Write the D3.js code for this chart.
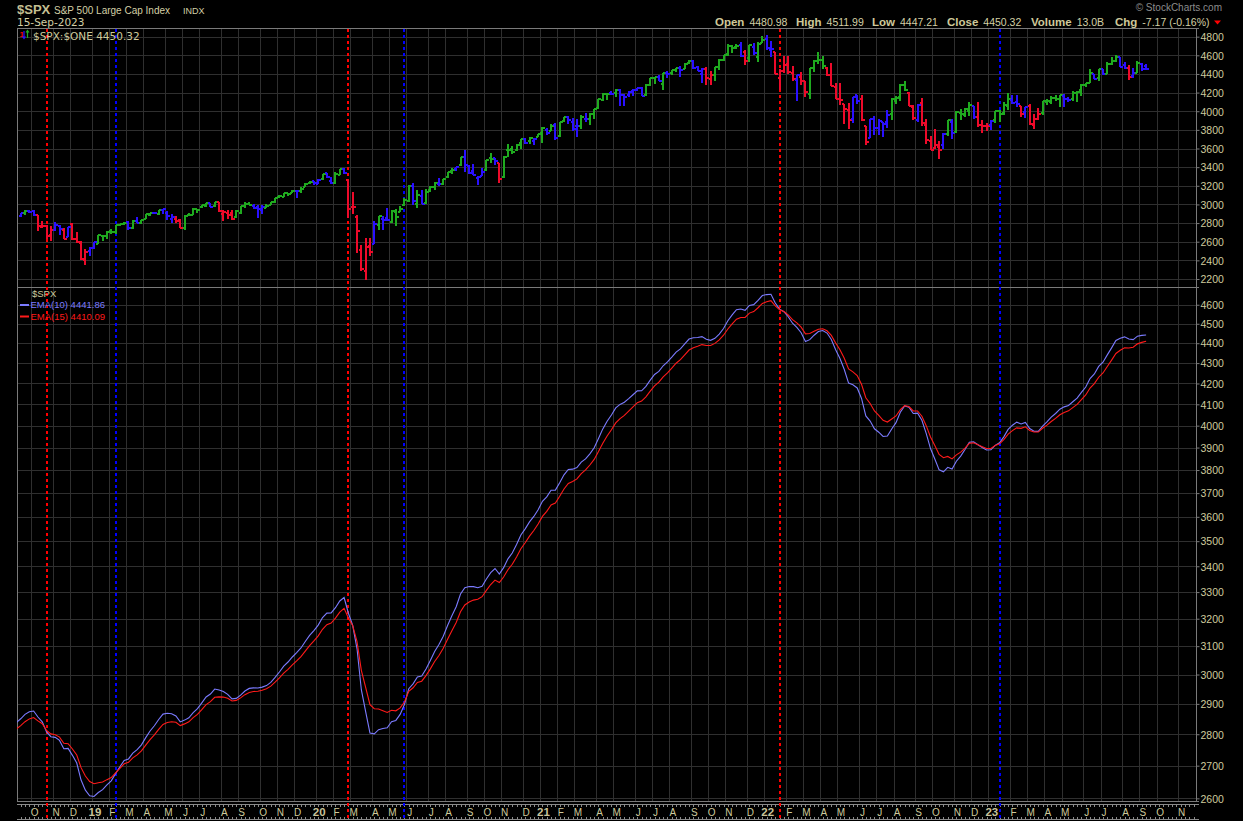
<!DOCTYPE html>
<html><head><meta charset="utf-8">
<script src="https://cdn.jsdelivr.net/npm/d3@7/dist/d3.min.js"></script>
<style>html,body{margin:0;padding:0;background:#000;overflow:hidden}svg{display:block}</style>
</head><body>
<svg id="chart" width="1243" height="821"></svg>
<script>
// ================= DATA (weekly bars, week ending Friday) =================
const firstWeek = "2018-09-14";
const lastWeek  = "2023-09-15";
const warmupFirstWeek = "2017-12-29";
// weekly closes before the visible window (needed to seed the moving averages)
const warmupCloses = [2674,2743,2786,2810,2873,2762,2620,2732,2747,2691,2787,2752,2588,2641,2604,2656,2670,2670,2663,2728,2713,2721,2735,2779,2779,2755,2718,2760,2801,2802,2819,2840,2833,2850,2875,2902,2872];

const opens = [
 2872,2906,2927,2926,2882,2763,2773,2670,2726,2773,2730,2649,2790,2631,2590,2401,
 2498,2535,2580,2657, 2657,2713,2703,2780, 2794,2812,2747,2823,2797, 2848,2889,2905,2898, 2941,2908,2841,2841,2831, 2751,2885,2886,2952, 2971,2981,3014,2987, 3024,2899,2907,2913,2866, 2910,2980,3002,2983, 2968,2944,2965,2996, 3028,3078,3081,3123,3118, 3144,3141,3183,3227,
 3248,3217,3274,3333,3248, 3235,3318,3380,3257, 2974,2864,2509,2290, 2559,2578,2782,2845, 2855,2815,2920,2914,2993, 3038,3199,3000,3094, 3018,3155,3191,3224,3219, 3289,3357,3377,3419, 3508,3413,3363,3285, 3310,3368,3494,3493,3441, 3296,3583,3600,3579, 3654,3699,3676,3684,3723,
 3764,3803,3791,3856, 3732,3893,3939,3885, 3842,3844,3913,3917, 3969,4034,4125,4182,4194, 4192,4228,4169,4171, 4216,4230,4248,4174, 4285,4358,4372,4297,4410, 4406,4438,4461,4450, 4513,4535,4474,4402, 4449,4349,4386,4472,4553, 4610,4697,4689,4712, 4640,4572,4687,4586,4733,
 4778,4655,4632,4357, 4432,4505,4412,4332, 4363,4323,4188,4462, 4541,4547,4462,4385,4255, 4130,4082,4013,3920, 4173,4135,3838,3715, 3920,3815,3880,3883,3965, 4113,4155,4281,4195, 4041,3910,4083,3857,3682, 3610,3620,3638,3754, 3886,3778,3977,3956, 4006,4053,3939,3854,3843,
 3853,3910,3999,3979, 4053,4120,4096,4057, 3992,4055,3856,3917,3983, 4102,4103,4140,4134, 4166,4136,4126,4191, 4224,4282,4304,4396,4354, 4450,4404,4505,4543, 4578,4492,4464,4375, 4415,4510,4481
];
const highs = [
 2906,2941,2940,2940,2889,2817,2779,2767,2815,2775,2746,2761,2800,2708,2607,2520,
 2539,2598,2675,2672, 2716,2738,2776,2794, 2814,2817,2830,2861,2836, 2894,2910,2917,2940, 2954,2932,2893,2871,2841, 2885,2911,2964,2955, 2996,3014,3018,3028, 3028,2945,2944,2939,2940, 2985,3021,3022,3002, 2993,2994,3008,3027, 3067,3098,3121,3127,3154, 3150,3183,3226,3248,
 3248,3276,3330,3338,3293, 3347,3385,3393,3260, 3137,2882,2562,2637, 2642,2818,2880,2871, 2964,2939,2955,2980,3068, 3212,3233,3156,3155, 3165,3198,3236,3279,3273, 3352,3387,3399,3509, 3588,3426,3429,3306, 3393,3482,3550,3502,3441, 3522,3646,3629,3645, 3702,3712,3726,3711,3760,
 3827,3824,3860,3870, 3887,3938,3950,3928, 3914,3960,3984,3978, 4021,4129,4191,4195,4219, 4238,4238,4187,4219, 4234,4250,4262,4287, 4356,4372,4394,4415,4429, 4440,4469,4480,4513, 4546,4549,4487,4466, 4475,4429,4475,4559,4608, 4718,4707,4718,4744, 4652,4713,4731,4741,4808,
 4819,4749,4632,4453, 4595,4590,4490,4385, 4416,4324,4466,4546, 4637,4593,4471,4513,4308, 4308,4082,4090,4158, 4178,4169,3838,3914, 3951,3918,3880,4013,4140, 4167,4290,4325,4203, 4062,4077,4140,3916,3736, 3807,3685,3762,3905, 3912,4002,4029,4034, 4101,4053,4101,3906,3877,
 3907,4004,4015,4095, 4195,4176,4170,4058, 4048,4079,3974,4039,4110, 4134,4164,4170,4170, 4187,4155,4212,4213, 4290,4299,4448,4400,4458, 4456,4528,4578,4607, 4584,4528,4491,4459, 4541,4515,4512
];
const lows = [
 2865,2886,2903,2874,2710,2749,2628,2604,2717,2671,2631,2649,2621,2583,2409,2347,
 2444,2525,2574,2612, 2631,2684,2682,2765, 2775,2722,2732,2800,2785, 2848,2874,2893,2891, 2901,2836,2801,2806,2750, 2728,2875,2883,2906, 2963,2968,2969,2977, 2914,2822,2840,2835,2853, 2892,2964,2989,2946, 2856,2892,2961,2991, 3013,3066,3078,3091,3118, 3070,3124,3183,3224,
 3212,3214,3264,3280,3214, 3215,3316,3328,2855, 2901,2479,2281,2192, 2447,2575,2729,2727, 2819,2798,2766,2914,2988, 3026,2999,2966,3004, 3000,3128,3159,3202,3205, 3285,3327,3363,3416, 3349,3330,3313,3209, 3310,3354,3441,3420,3233, 3280,3511,3543,3576, 3594,3645,3647,3636,3723,
 3663,3749,3784,3694, 3725,3885,3865,3789, 3724,3806,3885,3853, 3917,4029,4115,4118,4177, 4157,4056,4061,4153, 4168,4217,4165,4165, 4274,4289,4321,4233,4360, 4385,4425,4367,4448, 4508,4456,4427,4306, 4279,4278,4329,4447,4538, 4595,4630,4673,4585, 4495,4531,4600,4531,4733,
 4662,4582,4395,4223, 4415,4401,4327,4115, 4279,4157,4129,4425, 4507,4450,4381,4267,4129, 4062,3859,3811,3875, 4073,3900,3637,3715, 3741,3743,3722,3819,3911, 4080,4108,4218,4057, 3907,3884,3837,3647,3584, 3600,3492,3590,3733, 3699,3764,3906,3937, 3947,3918,3828,3765,3783,
 3795,3877,3885,3962, 4015,4080,4048,3943, 3929,3847,3809,3902,3955, 4069,4073,4113,4049, 4048,4099,4114,4104, 4166,4261,4304,4341,4328, 4385,4396,4497,4526, 4475,4457,4335,4356, 4415,4431,4447
];
const closes = [
 2905,2930,2914,2886,2767,2768,2659,2723,2781,2736,2633,2760,2633,2600,2417,2486,
 2532,2596,2671,2665, 2707,2708,2776,2793, 2804,2743,2822,2801,2834, 2893,2907,2905,2940, 2946,2881,2860,2826,2752, 2873,2887,2950,2942, 2990,3014,2977,3026, 2932,2919,2889,2847,2926, 2979,3007,2992,2962, 2952,2970,2986,3023, 3067,3093,3120,3110,3141, 3146,3169,3221,3240,
 3235,3265,3330,3295,3226, 3328,3380,3338,2954, 2972,2711,2305,2541, 2489,2790,2875,2837, 2831,2930,2864,2955,3044, 3194,3041,3098,3009, 3130,3185,3225,3216,3271, 3351,3373,3397,3508, 3427,3341,3319,3298, 3348,3477,3484,3465,3270, 3509,3585,3558,3638, 3699,3663,3709,3703,3756,
 3825,3768,3841,3714, 3887,3935,3907,3811, 3842,3943,3913,3975, 4020,4129,4185,4180,4181, 4233,4174,4156,4204, 4230,4247,4166,4281, 4352,4370,4327,4412,4395, 4437,4468,4442,4509, 4535,4459,4433,4455, 4357,4391,4471,4545,4605, 4698,4683,4698,4595, 4538,4712,4621,4726,4766,
 4677,4663,4398,4432, 4501,4419,4349,4385, 4329,4204,4463,4543, 4546,4488,4393,4272,4132, 4123,4024,3901,4158, 4109,3901,3675,3912, 3825,3899,3863,3962,4130, 4145,4280,4228,4058, 3924,4067,3873,3693,3586, 3640,3583,3753,3901, 3771,3993,3965,4026, 4072,3934,3852,3845,3840,
 3895,3999,3973,4071, 4136,4090,4079,3970, 4046,3862,3917,3971,4109, 4105,4138,4134,4169, 4136,4124,4192,4205, 4282,4299,4410,4348,4450, 4399,4505,4536,4582, 4478,4464,4370,4406, 4516,4457,4450
];

const emaPeriods = [10, 15];
const emaLegend = ["EMA(10) 4441.86", "EMA(15) 4410.09"];
const emaColors = ["#7b7bff", "#ff1a1a"];
const sellSignals = ["2018-10-26", "2020-02-28", "2022-01-28"];
const buySignals  = ["2019-02-15", "2020-05-29", "2023-01-20"];
const topTicks = [2200,2400,2600,2800,3000,3200,3400,3600,3800,4000,4200,4400,4600,4800];
const lowTicks = [2600,2700,2800,2900,3000,3100,3200,3300,3400,3500,3600,3700,3800,3900,4000,4100,4200,4300,4400,4500,4600];
const monthLetters = ["J","F","M","A","M","J","J","A","S","O","N","D"];
const headerQuote = [["Open","4480.98"],["High","4511.99"],["Low","4447.21"],["Close","4450.32"],["Volume","13.0B"],["Chg","-7.17 (-0.16%)"]];

// ================= LAYOUT =================
const L = 17, R = 1196, T1 = 28, B1 = 287, T2 = 288, B2 = 801;
const TXT = "#cfcb9d", GRID = "#2f2f2f", BORDER = "#7a7a7a";
const C_GREEN = "#1faa1f", C_RED = "#ee0a2a", C_BLUE = "#2a10ff";
const quoteX = [715, 796, 872, 947, 1031, 1115];

const svg = d3.select("#chart");
svg.append("rect").attr("width", 1243).attr("height", 821).attr("fill", "#000");

const utc = s => new Date(s + "T00:00:00Z");
const dates = d3.utcFriday.range(utc(firstWeek), d3.utcDay.offset(utc(lastWeek), 1));
const warmDates = d3.utcFriday.range(utc(warmupFirstWeek), utc(firstWeek));
const n = Math.min(dates.length, opens.length, highs.length, lows.length, closes.length);

const x = d3.scaleUtc().domain([utc("2018-09-08"), utc("2023-12-05")]).range([L, R]);
const yTop = d3.scaleLinear().domain([2114, 4893]).range([B1, T1]);
const yLow = d3.scaleLog().domain([2592, 4690]).range([B2, T2]);

// ---------- indicators ----------
function ema(vals, p) {
  const k = 2 / (p + 1), out = new Array(vals.length).fill(null);
  let s = 0;
  for (let i = 0; i < vals.length; i++) {
    if (vals[i] == null) continue;
    if (i < p - 1) { s += vals[i]; continue; }
    if (i === p - 1) { s += vals[i]; out[i] = s / p; continue; }
    out[i] = out[i - 1] == null ? vals[i] : vals[i] * k + out[i - 1] * (1 - k);
  }
  return out;
}
const allCloses = warmupCloses.concat(closes.slice(0, n));
const allDates = warmDates.concat(dates.slice(0, n));
const off = warmupCloses.length;
const e12 = ema(allCloses, 12), e26 = ema(allCloses, 26), e13 = ema(allCloses, 13);
const macd = allCloses.map((c, i) => (e26[i] == null ? null : e12[i] - e26[i]));
const macdStart = 25;
const sigPart = ema(macd.slice(macdStart), 9);
const hist = macd.map((m, i) => (i < macdStart || sigPart[i - macdStart] == null ? null : m - sigPart[i - macdStart]));
function impulse(j) {
  const up1 = e13[j] > e13[j - 1], dn1 = e13[j] < e13[j - 1];
  if (hist[j] == null || hist[j - 1] == null) return up1 ? C_GREEN : (dn1 ? C_RED : C_BLUE);
  const up2 = hist[j] > hist[j - 1], dn2 = hist[j] < hist[j - 1];
  if (up1 && up2) return C_GREEN;
  if (dn1 && dn2) return C_RED;
  return C_BLUE;
}

// ---------- clip paths ----------
const defs = svg.append("defs");
defs.append("clipPath").attr("id", "cTop").append("rect").attr("x", L).attr("y", T1).attr("width", R - L).attr("height", B1 - T1);
defs.append("clipPath").attr("id", "cLow").append("rect").attr("x", L).attr("y", T2).attr("width", R - L).attr("height", B2 - T2);

// ---------- month grid & x axis ----------
const months = d3.utcMonth.range(utc("2018-10-01"), utc("2023-12-01"));
const monthInfo = months.map(m => {
  const mon = d3.utcMonday.ceil(m);
  const fri = d3.utcDay.offset(mon, 4);
  return { m, gx: Math.round(x(mon)) + 0.5, lx: x(fri) + 1 };
});
const grid = svg.append("g").attr("stroke", GRID).attr("stroke-width", 1).attr("shape-rendering", "crispEdges");
monthInfo.forEach(d => {
  if (d.gx <= L + 1 || d.gx >= R) return;
  grid.append("line").attr("x1", d.gx).attr("x2", d.gx).attr("y1", T1).attr("y2", B1);
  grid.append("line").attr("x1", d.gx).attr("x2", d.gx).attr("y1", T2).attr("y2", B2);
});
topTicks.forEach(v => {
  const yy = Math.round(yTop(v)) + 0.5;
  grid.append("line").attr("x1", L).attr("x2", R).attr("y1", yy).attr("y2", yy);
});
lowTicks.forEach(v => {
  const yy = Math.round(yLow(v)) + 0.5;
  grid.append("line").attr("x1", L).attr("x2", R).attr("y1", yy).attr("y2", yy);
});

// x-axis band
const xa = svg.append("g").attr("shape-rendering", "crispEdges");
xa.append("line").attr("x1", L).attr("x2", R + 3).attr("y1", 804.5).attr("y2", 804.5).attr("stroke", "#8a8a8a");
xa.append("line").attr("x1", L).attr("x2", R + 3).attr("y1", 819.5).attr("y2", 819.5).attr("stroke", "#8a8a8a");
const allFridays = d3.utcFriday.range(utc("2018-09-08"), utc("2023-12-05"));
allFridays.forEach(d => {
  const xx = Math.round(x(d)) + 0.5;
  xa.append("line").attr("x1", xx).attr("x2", xx).attr("y1", 805).attr("y2", 807).attr("stroke", "#8a8a8a");
  xa.append("line").attr("x1", xx).attr("x2", xx).attr("y1", 817).attr("y2", 819).attr("stroke", "#8a8a8a");
});
monthInfo.forEach(d => {
  const isYear = d.m.getUTCMonth() === 0;
  const label = isYear ? String(d.m.getUTCFullYear()).slice(2) : monthLetters[d.m.getUTCMonth()];
  if (d.lx > R) return;
  svg.append("text").attr("x", d.lx).attr("y", 816).attr("text-anchor", "middle")
    .attr("font-family", "Liberation Sans, Arial, sans-serif")
    .attr("font-size", isYear ? 11.5 : 10).attr("font-weight", isYear ? "bold" : "normal")
    .attr("fill", isYear ? "#c9c39a" : TXT).text(label);
});

// ---------- panel borders & right axes ----------
const bd = svg.append("g").attr("stroke", BORDER).attr("fill", "none").attr("shape-rendering", "crispEdges");
bd.append("line").attr("x1", L + 0.5).attr("x2", L + 0.5).attr("y1", T1).attr("y2", B2);
bd.append("line").attr("x1", R + 0.5).attr("x2", R + 0.5).attr("y1", T1).attr("y2", B2);
bd.append("line").attr("x1", L).attr("x2", R + 3).attr("y1", T1 + 0.5).attr("y2", T1 + 0.5);
bd.append("line").attr("x1", L).attr("x2", R + 3).attr("y1", B1 + 0.5).attr("y2", B1 + 0.5);
bd.append("line").attr("x1", L).attr("x2", R + 3).attr("y1", B2 + 0.5).attr("y2", B2 + 0.5);

const axTop = d3.axisRight(yTop).tickValues(topTicks).tickSize(3).tickPadding(1).tickFormat(d3.format("d"));
const axLow = d3.axisRight(yLow).tickValues(lowTicks).tickSize(3).tickPadding(1).tickFormat(d3.format("d"));
[axTop, axLow].forEach(ax => {
  const g = svg.append("g").attr("transform", `translate(${R + 0.5},0)`).call(ax);
  g.select(".domain").remove();
  g.selectAll("line").attr("stroke", BORDER);
  g.selectAll("text").attr("fill", TXT).attr("font-family", "Liberation Sans, Arial, sans-serif").attr("font-size", 10.5).attr("dy", "0.36em");
});

// ---------- signal markers ----------
const sig = svg.append("g").attr("stroke-width", 2).attr("stroke-dasharray", "3,3").attr("shape-rendering", "crispEdges");
sellSignals.forEach(s => { const xx = Math.round(x(utc(s))); sig.append("line").attr("x1", xx).attr("x2", xx).attr("y1", T1 + 1).attr("y2", 821).attr("stroke", "#ff0000"); });
buySignals.forEach(s => { const xx = Math.round(x(utc(s))); sig.append("line").attr("x1", xx).attr("x2", xx).attr("y1", T1 + 1).attr("y2", 821).attr("stroke", "#0000ff"); });

// ---------- price bars ----------
const bars = svg.append("g").attr("clip-path", "url(#cTop)").attr("fill", "none").attr("stroke-width", 2).attr("shape-rendering", "crispEdges");
for (let i = 0; i < n; i++) {
  const xx = Math.round(x(dates[i]));
  const p = `M${xx},${yTop(highs[i])}V${yTop(lows[i])}M${xx - 2},${yTop(opens[i])}H${xx}M${xx},${yTop(closes[i])}H${xx + 3}`;
  bars.append("path").attr("d", p).attr("stroke", impulse(i + off));
}

// ---------- EMA lines ----------
const lowG = svg.append("g").attr("clip-path", "url(#cLow)");
emaPeriods.forEach((p, k) => {
  const e = ema(allCloses, p);
  const pts = [];
  for (let j = off - 1; j < allCloses.length; j++) if (e[j] != null) pts.push([x(allDates[j]), yLow(e[j])]);
  lowG.append("path").attr("d", d3.line()(pts)).attr("fill", "none").attr("stroke", emaColors[k]).attr("stroke-width", 1.1);
});

// ---------- legends ----------
const lg = svg.append("g");
lg.append("text").attr("x", 19.5).attr("y", 37).attr("font-family", "Liberation Sans, sans-serif").attr("font-size", 8).attr("font-weight", "bold").attr("fill", "#ff0000").text("1");
lg.append("path").attr("d", "M24,31V38M22.5,36.5L24,38.5L25.5,36.5").attr("stroke", "#2a10ff").attr("fill", "none").attr("stroke-width", 1.2);
lg.append("path").attr("d", "M27.5,31V38M26,32.5L27.5,30.5L29,32.5").attr("stroke", "#1faa1f").attr("fill", "none").attr("stroke-width", 1.2);
lg.append("text").attr("x", 33).attr("y", 39.5).attr("font-family", "DejaVu Sans, sans-serif").attr("font-size", 10.5).attr("fill", TXT).text("$SPX:$ONE 4450.32");

lg.append("text").attr("x", 32).attr("y", 297).attr("font-family", "Liberation Sans, sans-serif").attr("font-size", 9.5).attr("fill", TXT).text("$SPX");
emaLegend.forEach((t, k) => {
  const yy = 308 + k * 11.5;
  lg.append("line").attr("x1", 20).attr("x2", 29).attr("y1", yy - 3).attr("y2", yy - 3).attr("stroke", emaColors[k]).attr("stroke-width", 2);
  lg.append("text").attr("x", 30.5).attr("y", yy).attr("font-family", "Liberation Sans, sans-serif").attr("font-size", 9.5).attr("fill", emaColors[k]).text(t);
});

// ---------- header ----------
const hd = svg.append("g").attr("font-family", "Liberation Sans, Arial, sans-serif");
hd.append("text").attr("x", 17).attr("y", 13.5).attr("font-size", 13).attr("font-weight", "bold").attr("fill", "#c4bf92").text("$SPX");
hd.append("text").attr("x", 54).attr("y", 13.5).attr("font-size", 10).attr("fill", "#d4d0a6").text("S&P 500 Large Cap Index");
hd.append("text").attr("x", 183).attr("y", 13.5).attr("font-size", 9).attr("fill", "#d4d0a6").text("INDX");
hd.append("text").attr("x", 17).attr("y", 26).attr("font-family", "DejaVu Sans, sans-serif").attr("font-size", 10.5).attr("fill", "#d4d0a6").text("15-Sep-2023");
hd.append("text").attr("x", 1222).attr("y", 11).attr("text-anchor", "end").attr("font-size", 10).attr("fill", "#8c8c8c").text("\u00a9 StockCharts.com");
headerQuote.forEach(([k, v], i) => {
  const t = hd.append("text").attr("x", quoteX[i]).attr("y", 25.5).attr("fill", "#d4d0a6");
  t.append("tspan").attr("font-weight", "bold").attr("font-size", 11.5).attr("fill", "#cfc99a").text(k);
  t.append("tspan").attr("dx", 5).attr("font-size", 10.5).text(v);
});
hd.append("path").attr("d", "M1214,20.5L1221,20.5L1217.5,24.5Z").attr("fill", "#ff0000");
</script>
</body></html>
